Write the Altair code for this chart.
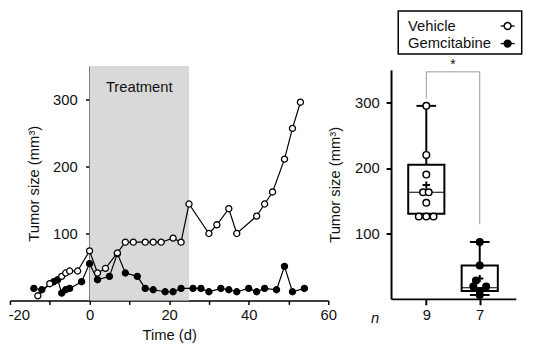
import altair as alt
import pandas as pd

FONT = "Liberation Sans"
INK = "#111111"

# ---------------- left panel: growth curves ----------------
veh_day = [-13, -10, -7, -6, -5, -3, 0, 2, 4, 7, 9, 11, 14, 16, 18, 21, 23, 25,
           30, 32, 35, 37, 42, 44, 46, 49, 51, 53]
veh_size = [7, 25, 36, 41, 44, 44, 74, 41, 48, 71, 87, 87, 87, 87, 87, 93, 87, 144,
            100, 113, 137, 100, 126, 144, 162, 211, 257, 296]
gem_day = [-14, -12, -9, -8, -7, -6, -5, -2, 0, 2, 5, 7, 9, 12, 14, 16, 19, 21, 23,
           26, 28, 30, 33, 35, 37, 40, 42, 44, 47, 49, 51, 54]
gem_size = [18, 16, 28, 31, 11, 16, 18, 28, 55, 31, 36, 70, 41, 36, 18, 16, 13, 13, 18,
            18, 18, 13, 18, 16, 13, 18, 13, 18, 16, 51, 13, 18]
series_names = ["Vehicle", "Gemcitabine"]
series_fill = ["white", "black"]

treat_window = [0, 25]
treat_label = "Treatment"
treat_label_y = 318

left_x_domain = [-20, 60]
left_x_ticks = [-20, -10, 0, 10, 20, 30, 40, 50, 60]
left_y_domain = [0, 350]
y_ticks = [100, 200, 300]

# ---------------- right panel: end-point box plot ----------------
box_group = ["Vehicle", "Gemcitabine"]
box_pos = [1, 2]
box_n = ["9", "7"]
box_lo = [126, 6]
box_q1 = [130, 12]
box_med = [163, 17]
box_q3 = [205, 51]
box_hi = [295, 87]
box_mean = [174, 31]

veh_end = [295, 220, 190, 163, 163, 147, 126, 126, 126]
veh_jit = [0, 0, 0, -0.06, 0.045, 0, -0.14, 0, 0.135]
gem_end = [87, 51, 28, 19, 19, 12, 6]
gem_jit = [0, 0, -0.07, -0.12, 0.12, 0, 0]

bracket_x = [1, 1, 2, 2]
bracket_y = [306, 347, 347, 114]
sig_label = "*"

right_x_domain = [0.34, 2.675]
right_y_domain = [0, 350]

y_title = "Tumor size (mm³)"

# ---------------- layout (pixels inside the plot area) ----------------
PLOT_W, PLOT_H = 513.3, 237.9
SVG_H = 337
LEFT_X_RANGE = [0, 323]
RIGHT_X_RANGE = [386.7, 513.3]
RIGHT_Y_RANGE = [236.3, 3.9]
LEG_TOP = -55.8

fill_scale = alt.Scale(domain=series_names, range=series_fill)

# ================= left panel =================
curves = pd.DataFrame({
    "day": gem_day + veh_day,
    "size": gem_size + veh_size,
    "series": ["Gemcitabine"] * len(gem_day) + ["Vehicle"] * len(veh_day),
})
shade_df = pd.DataFrame({"start": [treat_window[0]], "end": [treat_window[1]],
                         "lo": [left_y_domain[0]], "hi": [left_y_domain[1]]})
label_df = pd.DataFrame({"x": [(treat_window[0] + treat_window[1]) / 2],
                         "y": [treat_label_y], "t": [treat_label]})

lxs = alt.Scale(domain=left_x_domain, range=LEFT_X_RANGE, nice=False, zero=False,
                padding=0)
lys = alt.Scale(domain=left_y_domain, nice=False, padding=0)
lx_axis = alt.Axis(orient="bottom", values=left_x_ticks,
                   labelExpr="datum.value % 20 === 0 ? '' + datum.value : ''",
                   labelFlush=False,
                   labelOffset={"condition": {"test": f"datum.value == {left_x_domain[0]}",
                                              "value": 9}, "value": 0},
                   tickSize=4, tickWidth=1.5, domainWidth=1.5, labelPadding=3,
                   title="Time (d)", titlePadding=6)
ly_axis = alt.Axis(orient="left", values=y_ticks, offset=-80.75, tickSize=4,
                   tickWidth=1.5, domainWidth=1.7, labelPadding=8.5,
                   title=y_title, titlePadding=11)


def lx(field):
    return alt.X(field, scale=lxs, axis=lx_axis, title="Time (d)")


def ly(field):
    return alt.Y(field, scale=lys, axis=ly_axis, title=y_title)


shade = alt.Chart(shade_df).mark_rect(color="#d9d9d9").encode(
    x=lx("start:Q"), x2="end:Q", y=ly("lo:Q"), y2="hi:Q")
tlabel = alt.Chart(label_df).mark_text(font=FONT, fontSize=15, color=INK,
                                       baseline="middle", align="center").encode(
    x=lx("x:Q"), y=ly("y:Q"), text="t:N")
lines = alt.Chart(curves).mark_line(color="black", strokeWidth=1.2).encode(
    x=lx("day:Q"), y=ly("size:Q"), detail="series:N")
pts = alt.Chart(curves).mark_point(shape="circle", filled=True, size=38,
                                   stroke="black", strokeWidth=1.3, opacity=1).encode(
    x=lx("day:Q"), y=ly("size:Q"),
    fill=alt.Fill("series:N", scale=fill_scale, legend=None))
left = alt.layer(shade, tlabel, lines, pts)

# ================= right panel =================
box_df = pd.DataFrame({"group": box_group, "pos": box_pos, "n": box_n, "lo": box_lo,
                       "q1": box_q1, "med": box_med, "q3": box_q3, "hi": box_hi,
                       "mean": box_mean})
end_df = pd.DataFrame({
    "group": ["Vehicle"] * len(veh_end) + ["Gemcitabine"] * len(gem_end),
    "pos": [box_pos[0]] * len(veh_end) + [box_pos[1]] * len(gem_end),
    "val": veh_end + gem_end,
    "jit": veh_jit + gem_jit,
})
br_df = pd.DataFrame({"x": bracket_x, "y": bracket_y, "i": list(range(len(bracket_x)))})
sig_df = pd.DataFrame({"x": [(box_pos[0] + box_pos[1]) / 2], "y": [bracket_y[1]],
                       "t": [sig_label]})

rxs = alt.Scale(domain=right_x_domain, range=RIGHT_X_RANGE, nice=False, zero=False,
                padding=0)
rys = alt.Scale(domain=right_y_domain, range=RIGHT_Y_RANGE, nice=False, padding=0)
n_expr = " : ".join(f"datum.value == {p} ? '{n}'" for p, n in zip(box_pos, box_n)) + " : ''"
rx_axis = alt.Axis(orient="bottom", offset=-(PLOT_H - RIGHT_Y_RANGE[0]), values=box_pos,
                   labelExpr=n_expr, labelFlush=False, tickSize=6, tickWidth=2,
                   domainWidth=2, labelPadding=3, title="n", titleFontStyle="italic",
                   titleX=370, titleY=23.6, titleBaseline="alphabetic",
                   titleAlign="center", titleAnchor="start")
ry_axis = alt.Axis(orient="left", offset=-RIGHT_X_RANGE[0], values=y_ticks,
                   domainWidth=2, tickSize=5, tickWidth=2, labelPadding=7,
                   title=y_title, titlePadding=12)


def rx(field):
    return alt.X(field, scale=rxs, axis=rx_axis, title="n")


def ry(field):
    return alt.Y(field, scale=rys, axis=ry_axis, title=y_title)


whisk = alt.Chart(box_df).mark_rule(color="black", strokeWidth=2).encode(
    x=rx("pos:Q"), y=ry("lo:Q"), y2="hi:Q")
box = alt.Chart(box_df).mark_bar(size=36.7, fill="white", stroke="black",
                                 strokeWidth=2).encode(
    x=rx("pos:Q"), y=ry("q1:Q"), y2="q3:Q")
med = alt.Chart(box_df).mark_tick(orient="horizontal", size=36.7, thickness=1.2,
                                  color="black", opacity=1).encode(
    x=rx("pos:Q"), y=ry("med:Q"))
cap_hi = alt.Chart(box_df).mark_tick(orient="horizontal", size=20, thickness=2,
                                     color="black", opacity=1).encode(
    x=rx("pos:Q"), y=ry("hi:Q"))
cap_lo = alt.Chart(box_df).mark_tick(orient="horizontal", size=20, thickness=2,
                                     color="black", opacity=1).encode(
    x=rx("pos:Q"), y=ry("lo:Q"))
dots = alt.Chart(end_df).transform_calculate(xj="datum.pos + datum.jit").mark_point(
    shape="circle", filled=True, size=45, stroke="black", strokeWidth=1.5,
    opacity=1).encode(
    x=rx("xj:Q"), y=ry("val:Q"),
    fill=alt.Fill("group:N", scale=fill_scale, legend=None))
means = alt.Chart(box_df).mark_point(shape="M-1,0L1,0M0,-1L0,1", filled=False,
                                     size=55, stroke="black", strokeWidth=2,
                                     opacity=1).encode(
    x=rx("pos:Q"), y=ry("mean:Q"))
bracket = alt.Chart(br_df).mark_line(color="#999999", strokeWidth=1).encode(
    x=rx("x:Q"), y=ry("y:Q"), order="i:Q")
sig = alt.Chart(sig_df).mark_text(font=FONT, fontSize=14, color=INK,
                                  baseline="alphabetic", align="center", dy=-3).encode(
    x=rx("x:Q"), y=ry("y:Q"), text="t:N")

# ---- legend (label on the left, line-and-circle glyph on the right) ----
leg_frame = alt.Chart(pd.DataFrame({"k": [0]})).mark_rect(
    fill="white", stroke="black", strokeWidth=1.5).encode(
    x=alt.value(394), x2=alt.value(519.3), y=alt.value(LEG_TOP),
    y2=alt.value(LEG_TOP + 43.7))
legend_layers = [leg_frame]
for i, name in enumerate(series_names):
    row_y = LEG_TOP + 15.2 + 17.8 * i
    one = pd.DataFrame({"series": [name]})
    legend_layers.append(alt.Chart(one).mark_text(
        font=FONT, fontSize=15, color=INK, align="left", baseline="middle").encode(
        x=alt.value(404), y=alt.value(row_y), text="series:N"))
    legend_layers.append(alt.Chart(one).mark_rule(color="black", strokeWidth=1.3).encode(
        x=alt.value(498), x2=alt.value(512), y=alt.value(row_y)))
    legend_layers.append(alt.Chart(one).mark_point(
        shape="circle", filled=True, size=48, stroke="black", strokeWidth=1.5,
        opacity=1).encode(
        x=alt.value(505), y=alt.value(row_y),
        fill=alt.Fill("series:N", scale=fill_scale, legend=None)))

right = alt.layer(whisk, box, med, cap_hi, cap_lo, dots, means, bracket, sig,
                  *legend_layers)

chart = alt.layer(left, right).resolve_scale(
    x="independent", y="independent"
).properties(
    width=PLOT_W, height=PLOT_H,
    autosize=alt.AutoSizeParams(type="none"),
    padding={"left": 2, "top": 56.4, "right": 549 - 2 - PLOT_W,
             "bottom": SVG_H - 56.4 - PLOT_H},
).configure_view(stroke=None).configure_axis(
    labelFont=FONT, titleFont=FONT, labelFontSize=15, titleFontSize=15,
    titleFontWeight="normal", labelColor=INK, titleColor=INK,
    domainColor="black", tickColor="black", grid=False,
)

chart.save("out.html", embed_options={"renderer": "svg", "actions": False})
